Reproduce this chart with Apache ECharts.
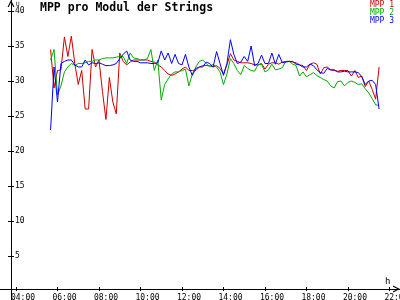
<!DOCTYPE html>
<html>
<head>
<meta charset="utf-8">
<script src="https://cdn.jsdelivr.net/npm/echarts@6/dist/echarts.min.js"></script>
<style>
html,body{margin:0;padding:0;background:#fff;}
#chart{width:400px;height:300px;}
</style>
</head>
<body>
<div id="chart"></div>
<script>
const titleText = 'MPP pro Modul der Strings';
const seriesNames = ['MPP 1', 'MPP 2', 'MPP 3'];
const seriesColors = ['#cc0000', '#00aa00', '#0000ff'];

const times = [
  '05:40','05:50',
  '06:00','06:10','06:20','06:30','06:40','06:50',
  '07:00','07:10','07:20','07:30','07:40','07:50',
  '08:00','08:10','08:20','08:30','08:40','08:50',
  '09:00','09:10','09:20','09:30','09:40','09:50',
  '10:00','10:10','10:20','10:30','10:40','10:50',
  '11:00','11:10','11:20','11:30','11:40','11:50',
  '12:00','12:10','12:20','12:30','12:40','12:50',
  '13:00','13:10','13:20','13:30','13:40','13:50',
  '14:00','14:10','14:20','14:30','14:40','14:50',
  '15:00','15:10','15:20','15:30','15:40','15:50',
  '16:00','16:10','16:20','16:30','16:40','16:50',
  '17:00','17:10','17:20','17:30','17:40','17:50',
  '18:00','18:10','18:20','18:30','18:40','18:50',
  '19:00','19:10','19:20','19:30','19:40','19:50',
  '20:00','20:10','20:20','20:30','20:40','20:50',
  '21:00','21:10','21:20','21:30'
];

const mpp1 = [
  34.5, 29,
  31.5, 31.6, 36.3, 33.5, 36.4, 32.5,
  29.5, 31.5, 26, 26, 34.5, 32,
  33, 28.5, 24.5, 30.5, 27, 25.3,
  34, 32.8, 32.3, 32.7, 33, 33,
  33, 33, 33, 32.8, 32.7, 32.3,
  32, 31.5, 31, 30.8, 31, 31.3,
  31.7, 32, 31.5, 31.5, 31.5, 32,
  32.2, 32.2, 32.2, 32, 32.2, 31.8,
  31, 32.3, 33.9, 33, 32.8, 32.6,
  32.6, 32.6, 32.5, 32.3, 32.3, 32.5,
  31.7, 32.4, 32.6, 32.6, 32.4, 32.7,
  32.8, 32.8, 32.7, 32.6, 32.3, 32.2,
  31.5, 32.4, 32.6, 32.4, 31, 31.9,
  32, 31.6, 31.5, 31.4, 31.5, 31.5,
  31.5, 30.7, 31.5, 30.5, 30.7, 29.2,
  30, 28.8, 27.4, 32
];

const mpp2 = [
  33, 34.5,
  28, 29.3, 31.3, 32, 32.5, 32.2,
  32.5, 32.5, 32.6, 32.8, 32.8, 33,
  33, 33.2, 33.3, 33.3, 33.3, 33.4,
  33.5, 33.5, 32.5, 34, 33.3, 33.2,
  33, 33, 33.2, 34.5, 31.5, 33,
  27.3, 29.5, 30.3, 31, 31.3, 31.3,
  31.5, 31.7, 29.3, 31, 32, 32.8,
  33, 32.5, 32, 32.4, 32, 31.3,
  29.5, 31, 33.2, 32.5, 31.5, 30.9,
  32.2, 31.8, 31.5, 31.4, 32.3, 32.4,
  31.3, 31.6, 32.4, 31.6, 31.7, 31.9,
  32.8, 32.8, 32.4, 32.2, 30.7, 31.3,
  30.6, 30.9, 31.2, 30.8, 30.5, 30.2,
  30, 29.3, 29, 29.9, 30, 29.3,
  29.8, 30, 29.8, 29.5, 29.6, 28.9,
  28.3, 27.5, 26.6, 26.5
];

const mpp3 = [
  23, 32,
  27, 32.5, 32.8, 33, 33, 32.3,
  32, 32, 33, 32.3, 32.6, 32.5,
  32.6, 32.4, 32.2, 32.2, 32.3, 32.5,
  33.2, 33.8, 34.3, 33, 32.8, 32.8,
  32.6, 32.6, 32.6, 32.5, 32.5, 32.6,
  34.3, 33, 34, 32.5, 33.8, 32.5,
  32.3, 33.8, 32, 30.8, 31.8, 32,
  32, 32.7, 32.5, 32, 34.2, 32.5,
  30.8, 32.5, 35.9, 33.8, 32.5, 32.7,
  33.5, 32.8, 35, 32.2, 32.5, 33.7,
  32.5, 32.5, 34, 32.4, 33.8, 32.6,
  32.7, 32.8, 32.8, 32.4, 32.3, 32,
  32, 32.4, 32.2, 31.6, 31.2, 31.1,
  31.8, 31.6, 31.6, 31.3, 31.3, 31.4,
  31.3, 31.3, 31.3, 31.2, 30.6, 29.5,
  30, 30.1, 29.5, 26
];

const xTickLabels = ['04:00','06:00','08:00','10:00','12:00','14:00','16:00','18:00','20:00','22:00'];
const yTickValues = [5, 10, 15, 20, 25, 30, 35, 40];
const xAxisName = 'h';
const yAxisName = 'U';

const toMin = s => parseInt(s.slice(0, 2), 10) * 60 + parseInt(s.slice(3), 10);
const pad = n => (n < 10 ? '0' : '') + n;
const fmtMin = m => pad(Math.floor(m / 60)) + ':' + pad(Math.round(m % 60));
const xTickValues = xTickLabels.map(toMin);

const FONT = 'DejaVu Sans Mono';
const arrowPath = 'path://M0,10 L5,0 L10,10 L8.2,10 L5,3.6 L1.8,10 Z';

const allSeries = [mpp1, mpp2, mpp3];

const chart = echarts.init(document.getElementById('chart'), null, {renderer: 'canvas'});
chart.setOption({
  animation: false,
  backgroundColor: '#ffffff',
  title: {
    text: titleText,
    left: 40,
    top: 2,
    padding: 0,
    textStyle: {fontFamily: FONT, fontSize: 11.5, fontWeight: 'bold', color: '#000'}
  },
  legend: {
    orient: 'vertical',
    right: 6,
    top: 1,
    padding: 0,
    itemGap: 0,
    itemWidth: 0,
    itemHeight: 7.5,
    icon: 'none',
    selectedMode: false,
    textStyle: {fontFamily: FONT, fontSize: 8, lineHeight: 7.5, padding: 0},
    data: seriesNames.map((n, i) => ({name: n, textStyle: {color: seriesColors[i]}}))
  },
  grid: {left: 0, right: 0, top: 0, bottom: 0, containLabel: false, outerBoundsMode: 'none'},
  xAxis: [
    {
      type: 'value',
      min: 193.7,
      max: 1350.5,
      position: 'bottom',
      offset: -11,
      name: xAxisName,
      nameLocation: 'end',
      nameGap: -15,
      nameTextStyle: {fontFamily: FONT, fontSize: 9, color: '#000', verticalAlign: 'bottom', align: 'left', padding: [0, 0, 3, 0]},
      splitLine: {show: false},
      axisLine: {
        show: true, onZero: false,
        lineStyle: {color: '#000', width: 1},
        symbol: ['none', arrowPath],
        symbolSize: [8, 7],
        symbolOffset: [0, -3.5]
      },
      axisTick: {show: true, inside: false, length: 2, lineStyle: {color: '#000'}, customValues: xTickValues},
      axisLabel: {
        show: true,
        margin: 4.5,
        customValues: xTickValues,
        formatter: v => '{a|' + fmtMin(v) + '}',
        rich: {a: {fontFamily: FONT, fontSize: 8, color: '#000', padding: [0, 0, 0, 14]}}
      }
    },
    {
      type: 'value',
      min: 193.7,
      max: 1350.5,
      position: 'bottom',
      offset: -11,
      splitLine: {show: false},
      axisLine: {show: false, onZero: false},
      axisTick: {show: true, inside: true, length: 2, lineStyle: {color: '#000'}, customValues: xTickValues},
      axisLabel: {show: false}
    }
  ],
  yAxis: [
    {
      type: 'value',
      min: -1.2857,
      max: 41.5714,
      position: 'left',
      offset: -11,
      name: yAxisName,
      nameLocation: 'end',
      nameGap: -1,
      nameTextStyle: {fontFamily: FONT, fontSize: 6, color: '#000', align: 'left', verticalAlign: 'top', padding: [0, 0, 0, 5]},
      splitLine: {show: false},
      axisLine: {
        show: true, onZero: false,
        lineStyle: {color: '#000', width: 1},
        symbol: ['none', arrowPath],
        symbolSize: [8, 7],
        symbolOffset: [0, -3.5]
      },
      axisTick: {show: true, inside: false, length: 3, lineStyle: {color: '#000'}, customValues: yTickValues},
      axisLabel: {
        show: true, inside: true, margin: 4,
        customValues: yTickValues,
        fontFamily: FONT, fontSize: 8, color: '#000'
      }
    },
    {
      type: 'value',
      min: -1.2857,
      max: 41.5714,
      position: 'left',
      offset: -11,
      splitLine: {show: false},
      axisLine: {show: false, onZero: false},
      axisTick: {show: true, inside: true, length: 3, lineStyle: {color: '#000'}, customValues: yTickValues},
      axisLabel: {show: false}
    }
  ],
  series: allSeries.map((vals, i) => ({
    name: seriesNames[i],
    type: 'line',
    xAxisIndex: 0,
    yAxisIndex: 0,
    showSymbol: false,
    symbol: 'none',
    color: seriesColors[i],
    lineStyle: {width: 1, color: seriesColors[i]},
    data: times.map((t, k) => [toMin(t), vals[k]])
  }))
});
</script>
</body>
</html>
